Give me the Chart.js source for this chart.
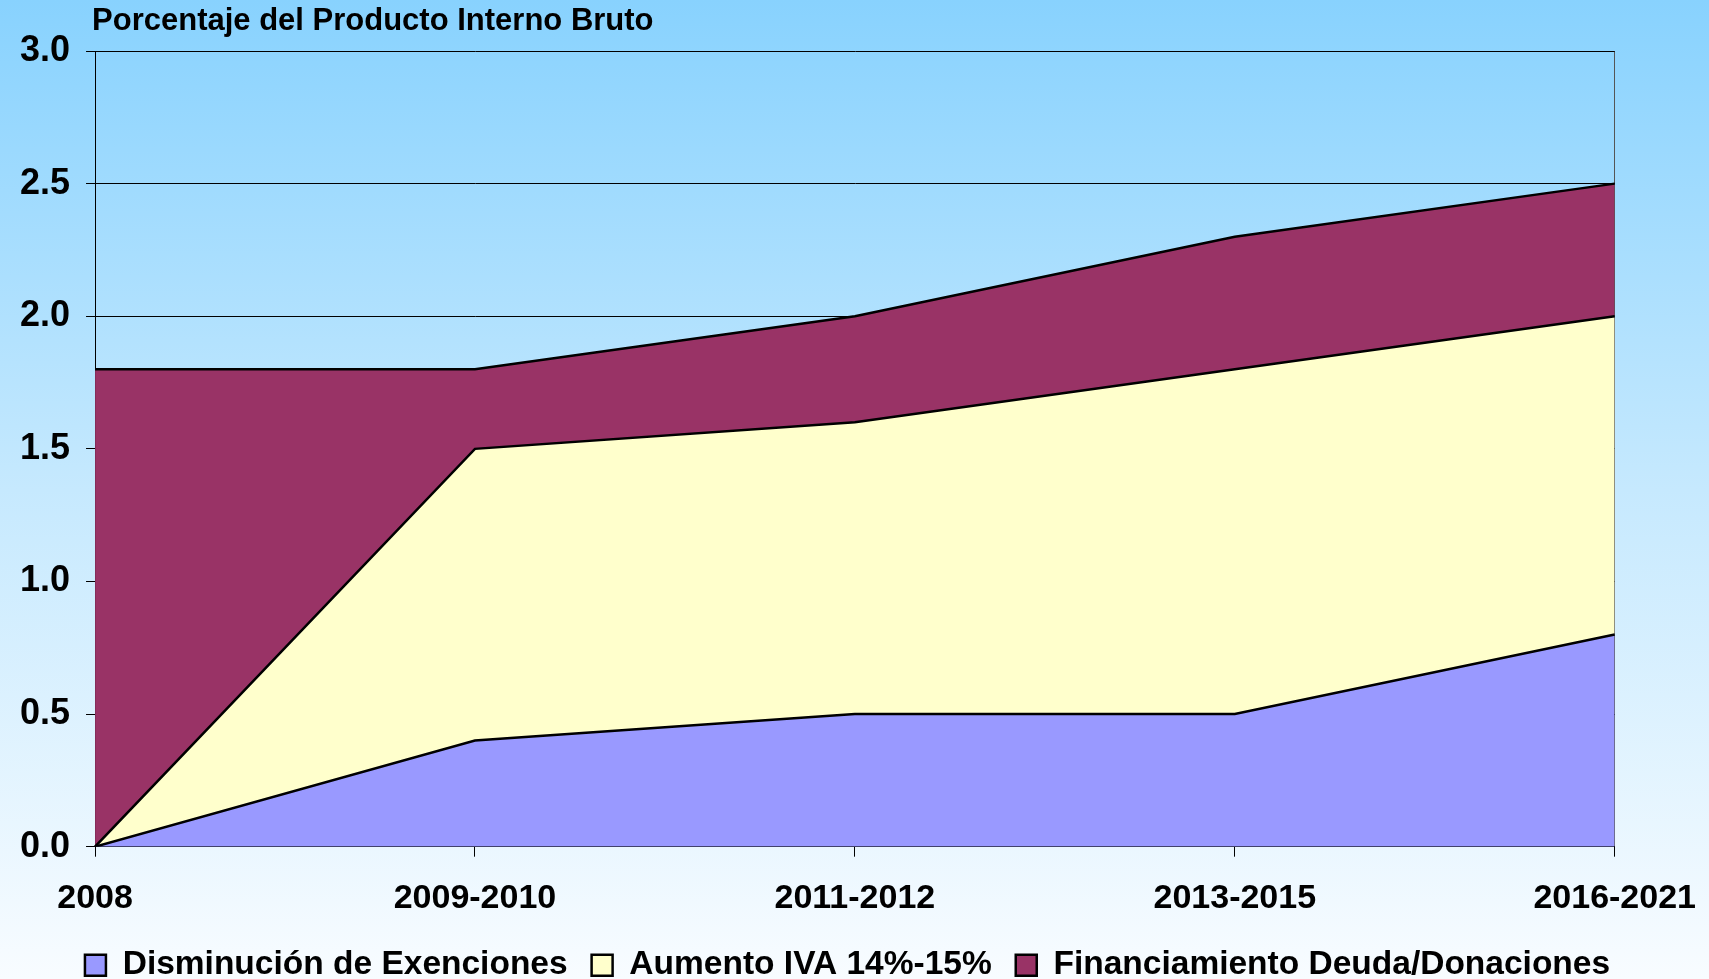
<!DOCTYPE html>
<html>
<head>
<meta charset="utf-8">
<script src="https://cdn.jsdelivr.net/npm/chart.js@4.4.1/dist/chart.umd.min.js"></script>
<style>
  html, body { margin: 0; padding: 0; background: #fff; overflow: hidden; }
  #wrap { width: 1709px; height: 979px; }
</style>
</head>
<body>
<div id="wrap"><canvas id="chart" width="1709" height="979"></canvas></div>
<script>
// datos
const periodos = ['2008', '2009-2010', '2011-2012', '2013-2015', '2016-2021'];
const exenciones = [0, 0.4, 0.5, 0.5, 0.8];
const iva = [0, 1.1, 1.1, 1.3, 1.2];
const financiamiento = [1.8, 0.3, 0.4, 0.5, 0.5];
const yTicks = [0, 0.5, 1.0, 1.5, 2.0, 2.5, 3.0];

const tituloTexto = 'Porcentaje del Producto Interno Bruto';
const fuente = 'Arial, "Liberation Sans", sans-serif';

// fondo degradado + titulo
const fondo = {
    id: 'fondo',
    beforeDraw(chart) {
        const { ctx, width, height } = chart;
        const g = ctx.createLinearGradient(0, 0, 0, height);
        g.addColorStop(0, '#88D2FE');
        g.addColorStop(0.5, '#C6E9FE');
        g.addColorStop(1, '#F8FCFF');
        ctx.save();
        ctx.fillStyle = g;
        ctx.fillRect(0, 0, width, height);
        ctx.restore();
    },
    afterDraw(chart) {
        const { ctx, chartArea } = chart;
        ctx.save();
        ctx.font = 'bold 31px ' + fuente;
        ctx.fillStyle = '#000';
        ctx.textBaseline = 'middle';
        ctx.fillText(tituloTexto, chartArea.left - 3, 21);
        ctx.restore();
    }
};

const ctx = document.getElementById('chart').getContext('2d');
new Chart(ctx, {
    type: 'line',
    data: {
        labels: periodos,
        datasets: [
            { label: 'Disminución de Exenciones', data: exenciones, backgroundColor: '#9999FF', borderColor: '#000', borderWidth: 2.5, fill: 'origin' },
            { label: 'Aumento IVA 14%-15%', data: iva, backgroundColor: '#FFFFCC', borderColor: '#000', borderWidth: 2.5, fill: '-1' },
            { label: 'Financiamiento Deuda/Donaciones', data: financiamiento, backgroundColor: '#993366', borderColor: '#000', borderWidth: 2.5, fill: '-1' }
        ]
    },
    options: {
        responsive: false,
        animation: false,
        elements: { point: { radius: 0 }, line: { tension: 0 } },
        layout: { padding: { top: 51, left: 4, right: 18, bottom: -13 } },
        scales: {
            x: {
                offset: false,
                afterFit: (scale) => { scale.height -= 17; scale.paddingRight -= 9; },
                grid: {
                    drawOnChartArea: true,
                    color: (c) => c.index === periodos.length - 1 ? '#555' : 'rgba(0,0,0,0)',
                    tickColor: '#000',
                    tickLength: 10
                },
                border: { color: '#000', width: 1 },
                ticks: { color: '#000', font: { family: fuente, size: 34, weight: 'bold' }, padding: 22, maxRotation: 0, autoSkip: false }
            },
            y: {
                stacked: true,
                min: 0,
                max: 3,
                afterBuildTicks: (axis) => { axis.ticks = yTicks.map(v => ({ value: v })); },
                grid: { color: '#000', lineWidth: 1, tickColor: '#000', tickLength: 9 },
                border: { color: '#000', width: 1 },
                ticks: { color: '#000', font: { family: fuente, size: 36, weight: 'bold' }, padding: 16, callback: (v) => Number(v).toFixed(1) }
            }
        },
        plugins: {
            legend: {
                position: 'bottom',
                labels: {
                    color: '#000',
                    font: { family: fuente, size: 33.5, weight: 'bold' },
                    boxWidth: 21,
                    boxHeight: 21,
                    padding: 24
                }
            },
            tooltip: { enabled: false }
        }
    },
    plugins: [fondo]
});
</script>
</body>
</html>
